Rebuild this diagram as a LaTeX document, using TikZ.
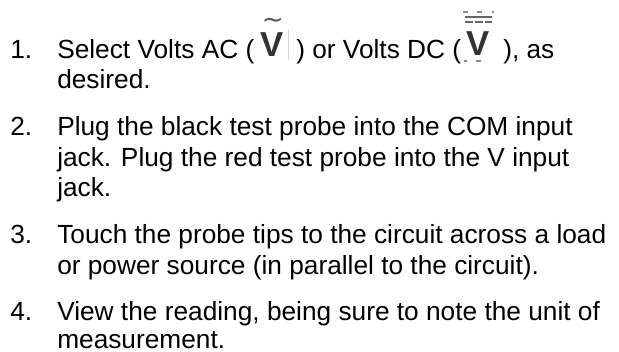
\documentclass[tikz,border=0pt]{standalone}
\usepackage{fontspec}
\setmainfont{Liberation Sans}
\newfontfamily\symfont{DejaVu Sans}
\usetikzlibrary{positioning}
\tikzset{
    txt/.style={
           anchor=base west,
           inner sep=0pt,
           font=\fontsize{19.7pt}{24pt}\selectfont},
    bigv/.style={
           anchor=base,
           inner sep=0pt,
           text=black!80,
           font=\fontsize{26pt}{26pt}\selectfont\bfseries},
    dcbar/.style={
           draw=black!60,
           line width=1pt},
    speck/.style={
           draw=black!45,
           line width=0.8pt}
}
\begin{document}
\begin{tikzpicture}[x=0.75pt,y=-0.75pt]
        \useasboundingbox (0,0) rectangle (619,351);
        \node[txt] (n1) at (10,58) {1.};
        \node[txt] (l1a) at (57,58) {Select Volts AC (};
        \node[bigv] (vac) at (272,56) {V};
        \node[txt] (l1b) at (296,58) {) or Volts DC (};
        \node[bigv] (vdc) at (478,55) {V};
        \node[txt] (l1c) at (503,58) {), as};
        \node[txt] (l1d) at (57,88) {desired.};
        \node[txt] (n2) at (10,135) {2.};
        \node[txt] (l2a) at (57,135) {Plug the black test probe into the COM input};
        \node[txt] (l2b) at (57,166) {jack. Plug the red test probe into the V input};
        \node[txt] (l2c) at (57,196) {jack.};
        \node[txt] (n3) at (10,243) {3.};
        \node[txt] (l3a) at (57,243) {Touch the probe tips to the circuit across a load};
        \node[txt] (l3b) at (57,274) {or power source (in parallel to the circuit).};
        \node[txt] (n4) at (10,320) {4.};
        \node[txt] (l4a) at (57,320) {View the reading, being sure to note the unit of};
        \node[txt] (l4b) at (57,348.5) {measurement.};
        \node[anchor=base, inner sep=0pt, text=black!65, font=\symfont\fontsize{19.7pt}{20pt}\selectfont] (tilde) at (273,28) {∼};
        % bars over the DC symbol
        \coordinate (barL) at (465,17);
        \coordinate (barR) at (492,17);
        \draw[dcbar] (barL) -- (barR);
        \coordinate (dashL) at (465,22);
        \coordinate (dashR) at (492,22);
        \draw[dcbar, dash pattern=on 6pt off 1.5pt] (dashL) -- (dashR);
        \coordinate (topA) at (463,12);
        \coordinate (topB) at (468,12);
        \coordinate (topC) at (477,12);
        \coordinate (topD) at (482,12);
        \coordinate (topE) at (492,12);
        \coordinate (topF) at (494,12);
        \draw[speck] (topA) -- (topB);
        \draw[speck] (topC) -- (topD);
        \draw[speck] (topE) -- (topF);
        \coordinate (botA) at (464,61);
        \coordinate (botB) at (467,61);
        \coordinate (botC) at (476,61);
        \coordinate (botD) at (481,61);
        \draw[speck] (botA) -- (botB);
        \draw[speck] (botC) -- (botD);
        % image edge beside the AC symbol
        \coordinate (edgeT) at (288,29);
        \coordinate (edgeB) at (288,60);
        \draw[draw=black!15, line width=0.6pt] (edgeT) -- (edgeB);
    \end{tikzpicture}
\end{document}
